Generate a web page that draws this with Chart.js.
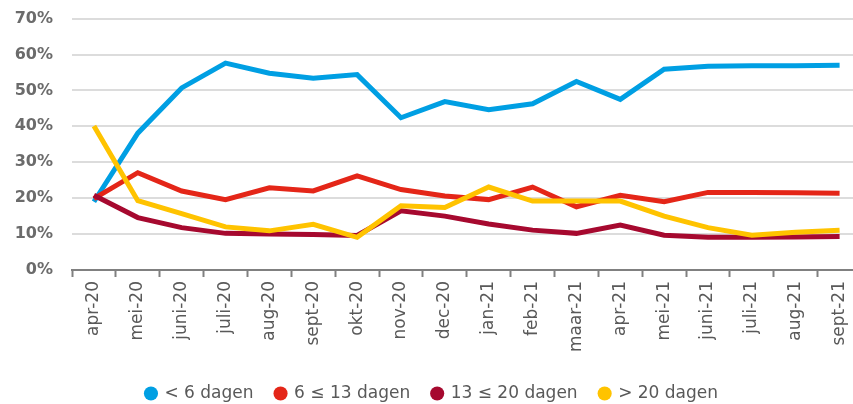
<!DOCTYPE html>
<html>
<head>
<meta charset="utf-8">
<script src="https://cdn.jsdelivr.net/npm/chart.js@4/dist/chart.umd.min.js"></script>
<style>
  html, body { margin: 0; padding: 0; background: #fff; overflow: hidden; }
  .graphContainer { width: 864px; height: 422px; position: relative; top: -10px; }
</style>
</head>
<body>
<div class="graphContainer">
  <canvas id="myChart"></canvas>
</div>
<script>
const labels = ['apr-20', 'mei-20', 'juni-20', 'juli-20', 'aug-20', 'sept-20', 'okt-20', 'nov-20', 'dec-20',
  'jan-21', 'feb-21', 'maar-21', 'apr-21', 'mei-21', 'juni-21', 'juli-21', 'aug-21', 'sept-21'];

const under6 = [19.0, 38.1, 50.7, 57.6, 54.8, 53.4, 54.4, 42.4, 46.9, 44.6, 46.3, 52.5, 47.5, 55.9, 56.7, 56.9, 56.9, 57.0];
const from6to13 = [19.9, 27.1, 22.0, 19.6, 22.9, 22.0, 26.2, 22.4, 20.6, 19.6, 23.1, 17.6, 20.8, 19.0, 21.6, 21.6, 21.5, 21.4];
const from13to20 = [20.8, 14.6, 11.8, 10.2, 10.0, 9.9, 9.6, 16.5, 15.0, 12.8, 11.1, 10.2, 12.5, 9.7, 9.1, 9.1, 9.2, 9.3];
const over20 = [40.1, 19.3, 15.7, 12.0, 10.9, 12.7, 9.1, 17.9, 17.4, 23.1, 19.2, 19.2, 19.2, 15.0, 11.8, 9.7, 10.5, 11.1];

const yTicks = [0, 10, 20, 30, 40, 50, 60, 70];

const myChartRef = document.getElementById('myChart').getContext('2d');

// later series are painted on top, like the original
const line = (label, data, color, order) => ({
  label: label,
  data: data,
  borderColor: color,
  backgroundColor: color,
  borderWidth: 5,
  pointRadius: 0,
  tension: 0,
  order: order,
});

new Chart(myChartRef, {
  type: 'line',
  data: {
    labels: labels,
    datasets: [
      line('< 6 dagen', under6, '#009FE3', 3),
      line('6 \u2264 13 dagen', from6to13, '#E42618', 2),
      line('13 \u2264 20 dagen', from13to20, '#A6092F', 1),
      line('> 20 dagen', over20, '#FFC300', 0),
    ],
  },
  options: {
    responsive: true,
    maintainAspectRatio: false,
    animation: false,
    layout: { padding: 0 },
    plugins: {
      tooltip: { enabled: false },
      legend: {
        position: 'bottom',
        labels: {
          usePointStyle: true,
          pointStyle: 'circle',
          boxWidth: 10,
          boxHeight: 10,
          padding: 22,
          color: '#595959',
          font: { family: 'DejaVu Sans', size: 17 },
          sort: (a, b) => a.datasetIndex - b.datasetIndex,
          generateLabels: chart => Chart.defaults.plugins.legend.labels.generateLabels(chart)
            .map(item => Object.assign(item, { lineWidth: 0 })),
        },
      },
    },
    scales: {
      x: {
        offset: true,
        grid: {
          offset: true,
          drawOnChartArea: false,
          tickLength: 7,
          tickWidth: 2,
          tickColor: '#808080',
        },
        border: { color: '#808080', width: 2 },
        ticks: {
          minRotation: 90,
          maxRotation: 90,
          padding: 4,
          color: '#595959',
          font: { family: 'DejaVu Sans', size: 17 },
        },
        afterFit: scale => { scale.height = 93; },
      },
      y: {
        min: 0,
        max: 70,
        afterBuildTicks: scale => { scale.ticks = yTicks.map(v => ({ value: v })); },
        grid: { color: '#dcdcdc', lineWidth: 2, drawTicks: false },
        border: { display: false },
        ticks: {
          padding: 19,
          color: '#6b6b6b',
          font: { family: 'DejaVu Sans', size: 16, weight: 'bold' },
          callback: v => v + '%',
        },
        afterFit: scale => { scale.width = 72; },
      },
    },
  },
});
</script>
</body>
</html>
